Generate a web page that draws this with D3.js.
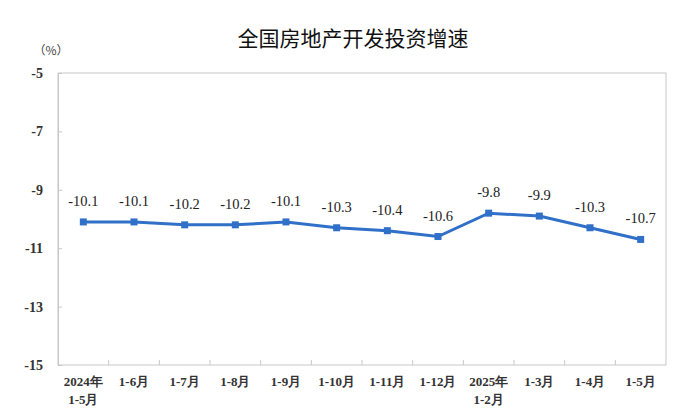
<!DOCTYPE html>
<html><head><meta charset="utf-8">
<script src="https://cdn.jsdelivr.net/npm/d3@7/dist/d3.min.js"></script>
<style>body{margin:0;background:#fff}</style>
</head><body>
<svg id="c" width="700" height="420"></svg>
<script>
const categories = ["2024年|1-5月","1-6月","1-7月","1-8月","1-9月","1-10月","1-11月","1-12月","2025年|1-2月","1-3月","1-4月","1-5月"];
const values = [-10.1,-10.1,-10.2,-10.2,-10.1,-10.3,-10.4,-10.6,-9.8,-9.9,-10.3,-10.7];
const yTicks = [-5,-7,-9,-11,-13,-15];
const title = "全国房地产开发投资增速";
const unit = "（%）";

const svg = d3.select("#c");
const m = {l:58, r:666, t:73, b:365};
const x = d3.scaleBand().domain(categories).range([m.l, m.r]);
const y = d3.scaleLinear().domain([-15,-5]).range([m.b, m.t]);
const serif = "'Liberation Serif','Times New Roman',serif";
const gray = "#c8c8c8";

// frame
svg.append("rect").attr("x",m.l).attr("y",m.t).attr("width",m.r-m.l).attr("height",m.b-m.t)
  .attr("fill","none").attr("stroke",gray).attr("stroke-width",1);

// y axis
const ya = svg.append("g").attr("transform",`translate(${m.l},0)`)
  .call(d3.axisRight(y).tickValues(yTicks).tickSize(4).tickFormat(""));
ya.select(".domain").attr("stroke",gray);
ya.selectAll(".tick line").attr("stroke",gray);
svg.append("g").selectAll("text").data(yTicks).join("text")
  .attr("x",43).attr("y",d=>y(d)+5).attr("text-anchor","end")
  .attr("font-family",serif).attr("font-size",14).attr("font-weight","bold").attr("fill","#333").text(d=>d);

// x axis ticks at band boundaries
const bounds = categories.slice(1).map(c=>x(c));
svg.append("g").selectAll("line").data(bounds).join("line")
  .attr("x1",d=>d).attr("x2",d=>d).attr("y1",m.b).attr("y2",m.b-5)
  .attr("stroke",gray);
const xl = svg.append("g").selectAll("text").data(categories).join("text")
  .attr("text-anchor","middle").attr("font-family",serif).attr("font-size",13).attr("fill","#333")
  .attr("font-weight","bold")
  .attr("transform",d=>`translate(${x(d)+x.bandwidth()/2},${m.b+21})`);
xl.each(function(d){
  const parts = d.split("|");
  d3.select(this).selectAll("tspan").data(parts).join("tspan")
    .attr("x",0).attr("dy",(p,i)=>i===0?0:18).text(p=>p);
});

// line
const cx = d => x(d)+x.bandwidth()/2;
const data = categories.map((c,i)=>({c, v:values[i]}));
svg.append("path").datum(data)
  .attr("d", d3.line().x(d=>cx(d.c)).y(d=>y(d.v)))
  .attr("fill","none").attr("stroke","#3070c8").attr("stroke-width",3);
svg.append("g").selectAll("rect").data(data).join("rect")
  .attr("x",d=>cx(d.c)-3.5).attr("y",d=>y(d.v)-3.5).attr("width",7).attr("height",7)
  .attr("fill","#3070c8");
svg.append("g").selectAll("text").data(data).join("text")
  .attr("x",d=>cx(d.c)).attr("y",d=>y(d.v)-16).attr("text-anchor","middle")
  .attr("font-family",serif).attr("font-size",14.5).attr("fill","#222")
  .text(d=>d.v.toFixed(1));

// title & unit
svg.append("text").attr("x",353).attr("y",46).attr("text-anchor","middle")
  .attr("font-family","'Noto Sans CJK SC',sans-serif").attr("font-size",21).attr("fill","#111")
  .text(title);
svg.append("text").attr("x",51).attr("y",55).attr("text-anchor","middle")
  .attr("font-family","'Noto Sans CJK SC',sans-serif").attr("font-size",12).attr("fill","#444").text(unit);
</script>
</body></html>
